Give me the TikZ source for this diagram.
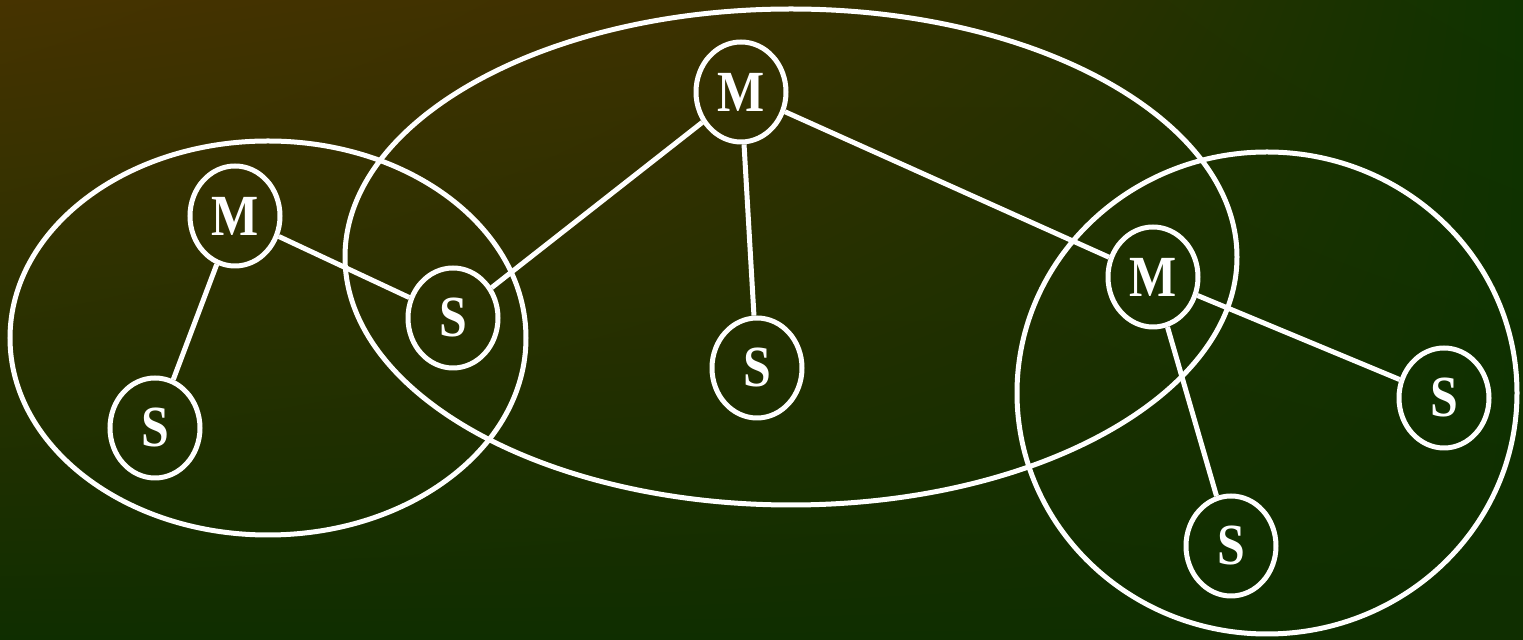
\documentclass[tikz,border=0pt]{standalone}
\usepackage{fontspec}
\usepackage{graphicx}
\setmainfont{Liberation Serif}
\usetikzlibrary{shapes.geometric,shadings}
\definecolor{bgA}{RGB}{70,51,0}
\definecolor{bgB}{RGB}{62,49,0}
\definecolor{bgC}{RGB}{44,49,0}
\definecolor{bgD}{RGB}{15,51,0}
\definecolor{bgBot}{RGB}{15,46,0}
\newcommand{\lbl}[1]{\scalebox{0.96}[1.12]{\bfseries #1}}
\tikzset{
  unit/.style={draw=white, line width=2.5pt, ellipse, inner sep=0pt,
    minimum width=45pt, minimum height=50pt, text=white,
    font=\fontsize{26}{30}\selectfont},
  group/.style={draw=white, line width=2.5pt},
  link/.style={draw=white, line width=2.5pt}
}
\begin{document}
\begin{tikzpicture}[x=0.5pt,y=-0.5pt]
\useasboundingbox (0,0) rectangle (1523,640);
\shade[upper left=bgA, upper right=bgB, lower left=bgBot, lower right=bgBot] (0,0) rectangle (651,640);
\shade[upper left=bgB, upper right=bgC, lower left=bgBot, lower right=bgBot] (650,0) rectangle (1051,640);
\shade[upper left=bgC, upper right=bgD, lower left=bgBot, lower right=bgBot] (1050,0) rectangle (1523,640);
% group ellipses
\draw[group] (268,338) ellipse [x radius=258, y radius=197];
\draw[group] (791,257) ellipse [x radius=446, y radius=248];
\draw[group] (1267,393) ellipse [x radius=250, y radius=241];
% nodes
\node[unit] (mtop) at (741,92) {\lbl{M}};
\node[unit] (mleft) at (235,216) {\lbl{M}};
\node[unit] (sbl) at (155,428) {\lbl{S}};
\node[unit] (sshared) at (453,318) {\lbl{S}};
\node[unit] (smid) at (757,368) {\lbl{S}};
\node[unit] (mright) at (1153,277) {\lbl{M}};
\node[unit] (sright) at (1444,398) {\lbl{S}};
\node[unit] (sbr) at (1231,546) {\lbl{S}};
% links
\draw[link] (mtop) -- (sshared);
\draw[link] (mtop) -- (smid);
\draw[link] (mtop) -- (mright);
\draw[link] (mleft) -- (sshared);
\draw[link] (mleft) -- (sbl);
\draw[link] (mright) -- (sright);
\draw[link] (mright) -- (sbr);
\end{tikzpicture}
\end{document}
